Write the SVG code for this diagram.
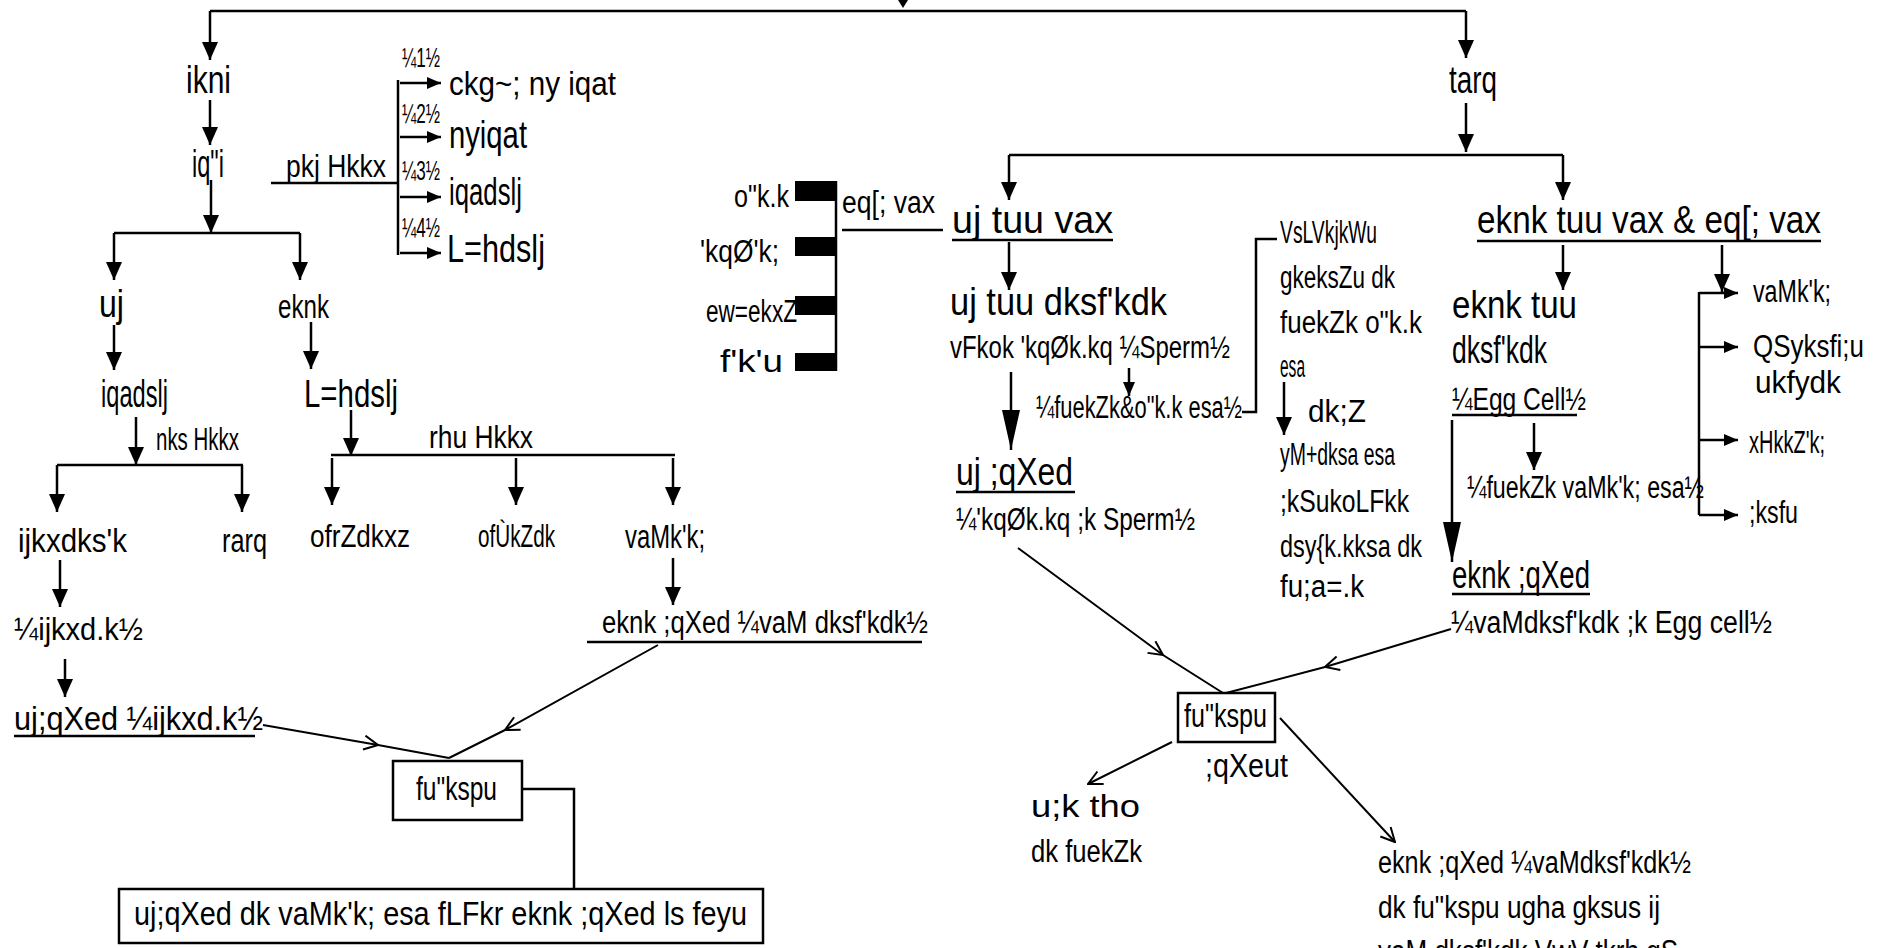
<svg xmlns="http://www.w3.org/2000/svg" width="1902" height="948" viewBox="0 0 1902 948">
<style>
text{font-family:"Liberation Sans",Arial,sans-serif;fill:#000;font-size:34px}
.s{font-size:27px}.m{font-size:31px}.b{font-size:38px}
.c line,.c path,.c polyline{stroke:#000;fill:none;stroke-width:2.5}
.a{marker-end:url(#ah)}.as{marker-end:url(#ahs)}.al{marker-end:url(#ahl)}
.ch{marker-mid:url(#chev)}.oe{marker-end:url(#chev)}
.c .thin{stroke-width:2}
.box{fill:#fff;stroke:#000;stroke-width:2.5}
</style>
<defs>
<marker id="ah" viewBox="0 0 18 16" refX="18" refY="8" markerWidth="18" markerHeight="16" markerUnits="userSpaceOnUse" orient="auto"><path d="M0,0 L18,8 L0,16 z" fill="#000"/></marker>
<marker id="ahs" viewBox="0 0 14 12" refX="14" refY="6" markerWidth="14" markerHeight="12" markerUnits="userSpaceOnUse" orient="auto"><path d="M0,0 L14,6 L0,12 z" fill="#000"/></marker>
<marker id="ahl" viewBox="0 0 40 18" refX="40" refY="9" markerWidth="40" markerHeight="18" markerUnits="userSpaceOnUse" orient="auto"><path d="M0,0 L40,9 L0,18 z" fill="#000"/></marker>
<marker id="chev" viewBox="0 0 16 16" refX="15" refY="8" markerWidth="16" markerHeight="16" markerUnits="userSpaceOnUse" orient="auto"><path d="M1,1 L15,8 L1,15" fill="none" stroke="#000" stroke-width="2"/></marker>
</defs>
<g class="c" id="connectors">
<path d="M210,11 H1466"/>
<path class="a" d="M210,11 V60"/>
<path class="a" d="M1466,11 V58"/>
<polygon points="898,0 908,0 903,8" fill="#000"/>
<path class="a" d="M210,100 V145"/>
<path class="a" d="M211,180 V233"/>
<path d="M114,233 H300"/>
<path class="a" d="M114,233 V280"/>
<path class="a" d="M300,233 V280"/>
<path d="M271,183 H398"/>
<path d="M398,80 V255"/>
<path class="as" d="M400,83 H441"/>
<path class="as" d="M400,137 H441"/>
<path class="as" d="M400,197 H441"/>
<path class="as" d="M400,253 H441"/>
<path class="a" d="M114,325 V370"/>
<path class="a" d="M311,322 V369"/>
<path class="a" d="M136,417 V465"/>
<path d="M57,465 H243"/>
<path class="a" d="M57,465 V512"/>
<path class="a" d="M242,465 V512"/>
<path class="a" d="M351,410 V456"/>
<path d="M331,455 H675"/>
<path class="a" d="M332,458 V505"/>
<path class="a" d="M516,458 V505"/>
<path class="a" d="M673,458 V505"/>
<path class="a" d="M673,558 V605"/>
<path class="a" d="M60,560 V607"/>
<path class="a" d="M65,659 V697"/>
<path d="M14,736 H255"/>
<path d="M587,642 H922"/>
<polyline class="ch thin" points="263,725 378,745 449,758"/>
<polyline class="ch thin" points="658,645 505,730 449,758"/>
<path d="M522,789 H574 V889"/>
<path class="a" d="M1466,103 V152"/>
<path d="M1009,155 H1563"/>
<path class="a" d="M1009,155 V200"/>
<path class="a" d="M1563,155 V200"/>
<path d="M836,181 V371"/>
<path d="M842,230 H943"/>
<path d="M952,240 H1113"/>
<path class="a" d="M1009,242 V290"/>
<path class="al" d="M1011,372 V450"/>
<path class="as" d="M1129,368 V396"/>
<path d="M1242,412 H1256 V239 H1277"/>
<path class="a" d="M1284,382 V435"/>
<path d="M956,492 H1075"/>
<path d="M1477,241 H1821"/>
<path class="a" d="M1563,245 V290"/>
<path class="a" d="M1722,245 V292"/>
<path d="M1699,292 V515"/>
<path class="as" d="M1699,293 H1738"/>
<path class="as" d="M1699,347 H1738"/>
<path class="as" d="M1699,440 H1738"/>
<path class="as" d="M1699,515 H1738"/>
<path d="M1452,415 H1577"/>
<path class="al" d="M1452,420 V562"/>
<path class="a" d="M1534,423 V470"/>
<path d="M1452,594 H1590"/>
<polyline class="ch thin" points="1018,548 1163,655 1223,693"/>
<polyline class="ch thin" points="1451,629 1325,667 1226,693"/>
<path class="oe thin" d="M1172,742 L1088,784"/>
<path class="oe thin" d="M1280,718 L1395,842"/>
</g>
<g id="rects">
<rect x="795" y="181" width="41" height="20"/>
<rect x="795" y="237" width="41" height="19"/>
<rect x="795" y="296" width="41" height="19"/>
<rect x="795" y="353" width="41" height="18"/>
</g>
<g id="n-ikni"><text x="186" y="93" textLength="45" lengthAdjust="spacingAndGlyphs" class="b">ikni</text></g>
<g id="n-pushp"><text x="192" y="177" textLength="32" lengthAdjust="spacingAndGlyphs" class="b">iq"i</text></g>
<g id="n-char"><text x="286" y="177" textLength="100" lengthAdjust="spacingAndGlyphs" class="m">pkj Hkkx</text></g>
<g id="n-l1"><text x="402" y="67" textLength="38" lengthAdjust="spacingAndGlyphs" class="s">¼1½</text></g>
<g id="n-l2"><text x="402" y="123" textLength="38" lengthAdjust="spacingAndGlyphs" class="s">¼2½</text></g>
<g id="n-l3"><text x="402" y="180" textLength="38" lengthAdjust="spacingAndGlyphs" class="s">¼3½</text></g>
<g id="n-l4"><text x="402" y="237" textLength="38" lengthAdjust="spacingAndGlyphs" class="s">¼4½</text></g>
<g id="n-bahya"><text x="449" y="95" textLength="167" lengthAdjust="spacingAndGlyphs">ckg~; ny iqat</text></g>
<g id="n-dal"><text x="449" y="148" textLength="78" lengthAdjust="spacingAndGlyphs" class="b">nyiqat</text></g>
<g id="n-punk1"><text x="449" y="205" textLength="73" lengthAdjust="spacingAndGlyphs" class="b">iqadslj</text></g>
<g id="n-stri1"><text x="447" y="262" textLength="98" lengthAdjust="spacingAndGlyphs" class="b">L=hdslj</text></g>
<g id="n-nar"><text x="99" y="317" textLength="25" lengthAdjust="spacingAndGlyphs" class="b">uj</text></g>
<g id="n-mada"><text x="278" y="318" textLength="51" lengthAdjust="spacingAndGlyphs">eknk</text></g>
<g id="n-punk2"><text x="101" y="407" textLength="67" lengthAdjust="spacingAndGlyphs" class="b">iqadslj</text></g>
<g id="n-stri2"><text x="304" y="407" textLength="94" lengthAdjust="spacingAndGlyphs" class="b">L=hdslj</text></g>
<g id="n-do"><text x="156" y="450" textLength="83" lengthAdjust="spacingAndGlyphs" class="m">nks Hkkx</text></g>
<g id="n-teen"><text x="429" y="448" textLength="104" lengthAdjust="spacingAndGlyphs" class="m">rhu Hkkx</text></g>
<g id="n-parag"><text x="18" y="552" textLength="109" lengthAdjust="spacingAndGlyphs">ijkxdks'k</text></g>
<g id="n-tantu"><text x="222" y="552" textLength="45" lengthAdjust="spacingAndGlyphs">rarq</text></g>
<g id="n-vartikagra"><text x="310" y="547" textLength="100" lengthAdjust="spacingAndGlyphs" class="m">ofrZdkxz</text></g>
<g id="n-vartika"><text x="478" y="547" textLength="77" lengthAdjust="spacingAndGlyphs" class="m">ofÙkZdk</text></g>
<g id="n-andashay1"><text x="625" y="548" textLength="80" lengthAdjust="spacingAndGlyphs">vaMk'k;</text></g>
<g id="n-madayug1"><text x="602" y="633" textLength="326" lengthAdjust="spacingAndGlyphs" class="m">eknk ;qXed ¼vaM dksf'kdk½</text></g>
<g id="n-paragkan"><text x="14" y="640" textLength="129" lengthAdjust="spacingAndGlyphs" class="m">¼ijkxd.k½</text></g>
<g id="n-naryug1"><text x="14" y="730" textLength="249" lengthAdjust="spacingAndGlyphs">uj;qXed ¼ijkxd.k½</text></g>
<g id="n-nishechan1"><rect class="box" x="393" y="761" width="129" height="59"/><text x="416" y="800" textLength="81" lengthAdjust="spacingAndGlyphs">fu"kspu</text></g>
<g id="n-milan"><rect class="box" x="119" y="889" width="644" height="54"/><text x="134" y="925" textLength="613" lengthAdjust="spacingAndGlyphs">uj;qXed dk vaMk'k; esa fLFkr eknk ;qXed ls feyu</text></g>
<g id="n-varshan"><text x="734" y="207" textLength="55" lengthAdjust="spacingAndGlyphs" class="m">o"k.k</text></g>
<g id="n-shukrashay"><text x="700" y="262" textLength="79" lengthAdjust="spacingAndGlyphs" class="m">'kqØ'k;</text></g>
<g id="n-mutra"><text x="706" y="322" textLength="91" lengthAdjust="spacingAndGlyphs" class="m">ew=ekxZ</text></g>
<g id="n-shishn"><text x="720" y="372" textLength="63" lengthAdjust="spacingAndGlyphs" class="m">f'k'u</text></g>
<g id="n-mukhya1"><text x="842" y="213" textLength="93" lengthAdjust="spacingAndGlyphs" class="m">eq[; vax</text></g>
<g id="n-nartanan"><text x="952" y="233" textLength="161" lengthAdjust="spacingAndGlyphs" class="b">uj tuu vax</text></g>
<g id="n-narkosh"><text x="950" y="315" textLength="217" lengthAdjust="spacingAndGlyphs" class="b">uj tuu dksf'kdk</text></g>
<g id="n-sperm1"><text x="950" y="358" textLength="280" lengthAdjust="spacingAndGlyphs" class="m">vFkok 'kqØk.kq ¼Sperm½</text></g>
<g id="n-nirman1"><text x="1036" y="418" textLength="206" lengthAdjust="spacingAndGlyphs" class="m">¼fuekZk&amp;o"k.k esa½</text></g>
<g id="n-naryug2"><text x="956" y="485" textLength="117" lengthAdjust="spacingAndGlyphs" class="b">uj ;qXed</text></g>
<g id="n-sperm2"><text x="956" y="530" textLength="239" lengthAdjust="spacingAndGlyphs" class="m">¼'kqØk.kq ;k Sperm½</text></g>
<g id="n-testo">
<text x="1280" y="243" textLength="97" lengthAdjust="spacingAndGlyphs" class="m">VsLVkjkWu</text>
<text x="1280" y="288" textLength="115" lengthAdjust="spacingAndGlyphs" class="m">gkeksZu dk</text>
<text x="1280" y="333" textLength="142" lengthAdjust="spacingAndGlyphs" class="m">fuekZk o"k.k</text>
<text x="1280" y="377" textLength="25" lengthAdjust="spacingAndGlyphs" class="m">esa</text>
<text x="1308" y="422" textLength="58" lengthAdjust="spacingAndGlyphs" class="m">dk;Z</text>
<text x="1280" y="465" textLength="115" lengthAdjust="spacingAndGlyphs" class="m">yM+dksa esa</text>
<text x="1280" y="512" textLength="129" lengthAdjust="spacingAndGlyphs" class="m">;kSukoLFkk</text>
<text x="1280" y="557" textLength="142" lengthAdjust="spacingAndGlyphs" class="m">dsy{k.kksa dk</text>
<text x="1280" y="597" textLength="84" lengthAdjust="spacingAndGlyphs" class="m">fu;a=.k</text>
</g>
<g id="n-jantu"><text x="1449" y="93" textLength="48" lengthAdjust="spacingAndGlyphs" class="b">tarq</text></g>
<g id="n-madatanan"><text x="1477" y="233" textLength="344" lengthAdjust="spacingAndGlyphs" class="b">eknk tuu vax &amp; eq[; vax</text></g>
<g id="n-madakosh">
<text x="1452" y="318" textLength="125" lengthAdjust="spacingAndGlyphs" class="b">eknk tuu</text>
<text x="1452" y="363" textLength="95" lengthAdjust="spacingAndGlyphs" class="b">dksf'kdk</text>
<text x="1452" y="410" textLength="134" lengthAdjust="spacingAndGlyphs" class="m">¼Egg Cell½</text>
</g>
<g id="n-nirman2"><text x="1467" y="498" textLength="237" lengthAdjust="spacingAndGlyphs" class="m">¼fuekZk vaMk'k; esa½</text></g>
<g id="n-madayug2"><text x="1452" y="588" textLength="138" lengthAdjust="spacingAndGlyphs" class="b">eknk ;qXed</text></g>
<g id="n-eggcell"><text x="1451" y="633" textLength="321" lengthAdjust="spacingAndGlyphs" class="m">¼vaMdksf'kdk ;k Egg cell½</text></g>
<g id="n-andashay2"><text x="1753" y="302" textLength="78" lengthAdjust="spacingAndGlyphs" class="m">vaMk'k;</text></g>
<g id="n-fallopian"><text x="1753" y="357" textLength="111" lengthAdjust="spacingAndGlyphs" class="m">QSyksfi;u</text><text x="1755" y="393" textLength="86" lengthAdjust="spacingAndGlyphs" class="m">ukfydk</text></g>
<g id="n-garbhashay"><text x="1749" y="453" textLength="76" lengthAdjust="spacingAndGlyphs" class="m">xHkkZ'k;</text></g>
<g id="n-yoni"><text x="1749" y="523" textLength="49" lengthAdjust="spacingAndGlyphs" class="m">;ksfu</text></g>
<g id="n-nishechan2"><rect class="box" x="1178" y="693" width="97" height="49"/><text x="1184" y="727" textLength="83" lengthAdjust="spacingAndGlyphs">fu"kspu</text></g>
<g id="n-yugmanaj"><text x="1205" y="777" textLength="83" lengthAdjust="spacingAndGlyphs">;qXeut</text></g>
<g id="n-nayajeev"><text x="1031" y="817" textLength="109" lengthAdjust="spacingAndGlyphs" class="m">u;k tho</text><text x="1031" y="862" textLength="111" lengthAdjust="spacingAndGlyphs" class="m">dk fuekZk</text></g>
<g id="n-nonfert">
<text x="1378" y="873" textLength="313" lengthAdjust="spacingAndGlyphs" class="m">eknk ;qXed ¼vaMdksf'kdk½</text>
<text x="1378" y="918" textLength="282" lengthAdjust="spacingAndGlyphs" class="m">dk fu"kspu ugha gksus ij</text>
<text x="1378" y="962" textLength="300" lengthAdjust="spacingAndGlyphs" class="m">vaM dksf'kdk VwV tkrh gS</text>
</g>
</svg>
